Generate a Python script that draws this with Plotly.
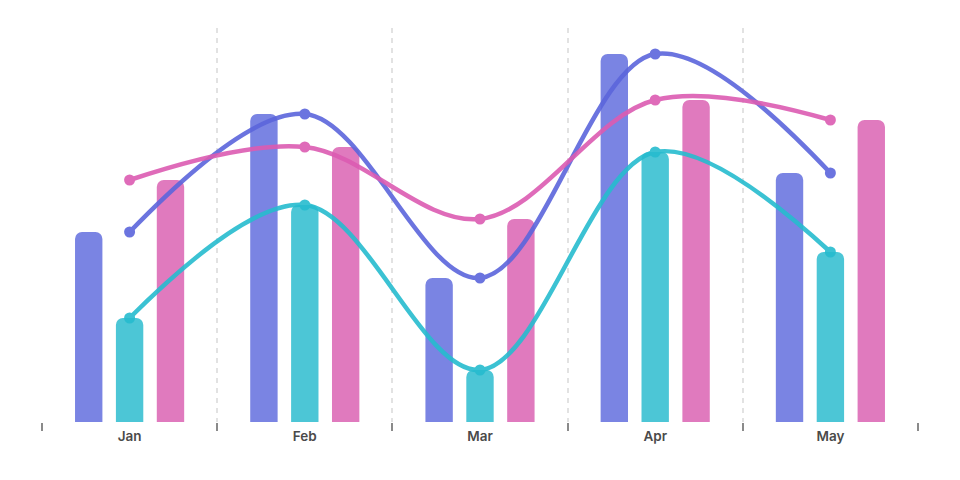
import plotly.graph_objects as go

months = ["Jan", "Feb", "Mar", "Apr", "May"]
series_a = [190, 308, 144, 368, 249]   # blue
series_b = [104, 217, 52, 270, 170]    # teal
series_c = [242, 275, 203, 322, 302]   # pink

bar_colors = ["#7a84e3", "#4cc6d6", "#e07abe"]
line_colors = ["#5c66dc", "#26bccf", "#dc5cb2"]
names = ["Series A", "Series B", "Series C"]
data = [series_a, series_b, series_c]

fig = go.Figure()
for vals, name, bc in zip(data, names, bar_colors):
    fig.add_trace(go.Bar(
        x=months, y=vals, name=name,
        marker=dict(color=bc, cornerradius=7, line=dict(width=0)),
        showlegend=False,
    ))
for vals, name, lc in zip(data, names, line_colors):
    fig.add_trace(go.Scatter(
        x=months, y=vals, name=name, mode="lines+markers",
        line=dict(color=lc, width=4.5, shape="spline", smoothing=1.0),
        marker=dict(color=lc, size=11),
        opacity=0.9,
        showlegend=False,
    ))

fig.update_layout(
    width=960, height=480,
    margin=dict(l=34, r=50, t=20, b=66),
    paper_bgcolor="white", plot_bgcolor="white",
    barmode="group", bargap=0.3, bargroupgap=0.33,
    xaxis=dict(
        type="category", tickson="boundaries",
        showgrid=True, gridcolor="#e2e2e2", griddash="5px,5px", gridwidth=1.5,
        ticks="outside", ticklen=8, tickcolor="#8a8a8a", tickwidth=1.5,
        ticklabelstandoff=4,
        showline=False, zeroline=False,
        tickfont=dict(family="Inter, Liberation Sans, sans-serif", size=13.5, color="#4a4a4a", weight=600),
    ),
    yaxis=dict(
        range=[0, 394], showgrid=False, zeroline=False, showticklabels=False,
        showline=False,
    ),
)

fig.write_html("out.html")
